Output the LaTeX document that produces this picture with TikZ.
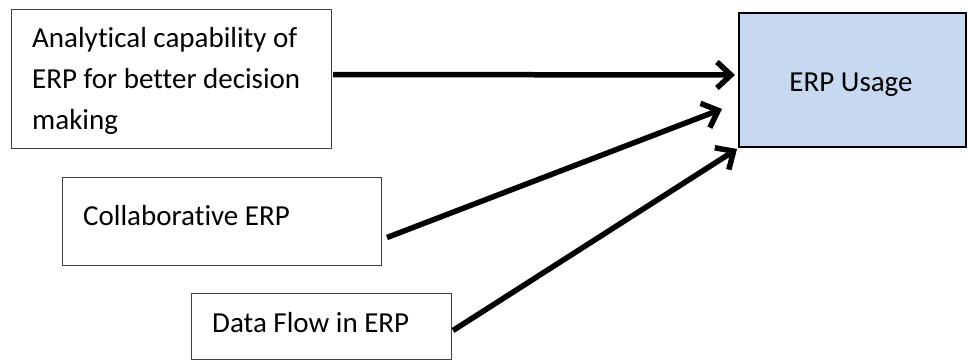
\documentclass[tikz,border=0pt]{standalone}
\usepackage{fontspec}
\setmainfont{Carlito}[Ligatures=NoCommon]
\usetikzlibrary{arrows.meta}
\definecolor{usagefill}{HTML}{C6D9F1}
\begin{document}
\begin{tikzpicture}[x=1pt,y=-1pt,
  box/.style={draw=black!75, line width=1pt, inner sep=0pt, anchor=north west},
  txt/.style={anchor=base west, inner sep=0pt, align=left, font=\fontsize{29}{41}\selectfont},
  conn/.style={line width=5.5pt, -{Straight Barb[length=14pt,width=26pt]}}]
\useasboundingbox (0,0) rectangle (968,361);
\node[box, minimum width=320pt, minimum height=139pt] (a) at (11,9) {};
\node[box, draw=black, line width=2pt, fill=usagefill, minimum width=227pt, minimum height=134pt] (u) at (738,12) {};
\node[box, minimum width=319pt, minimum height=88pt] (c) at (62,177) {};
\node[box, minimum width=260pt, minimum height=66pt] (d) at (191,293) {};
\node[txt] (ta) at (32,129) {Analytical capability of\\ERP for better decision\\making};
\node[txt, anchor=base] (tu) at (851,91) {ERP Usage};
\node[txt] (tc) at (83,225) {Collaborative ERP};
\node[txt] (td) at (212,332) {Data Flow in ERP};
\coordinate (a1) at ([shift={(1,-4.5)}]a.east);
\coordinate (u1) at ([shift={(-3,-5)}]u.west);
\coordinate (c1) at ([shift={(5,16)}]c.east);
\coordinate (u2) at ([shift={(-16,-39)}]u.south west);
\coordinate (d1) at ([shift={(1,4)}]d.east);
\coordinate (u3) at ([shift={(-1,1)}]u.south west);
\draw[conn] (a1) -- (u1);
\draw[conn] (c1) -- (u2);
\draw[conn] (d1) -- (u3);
\end{tikzpicture}
\end{document}
